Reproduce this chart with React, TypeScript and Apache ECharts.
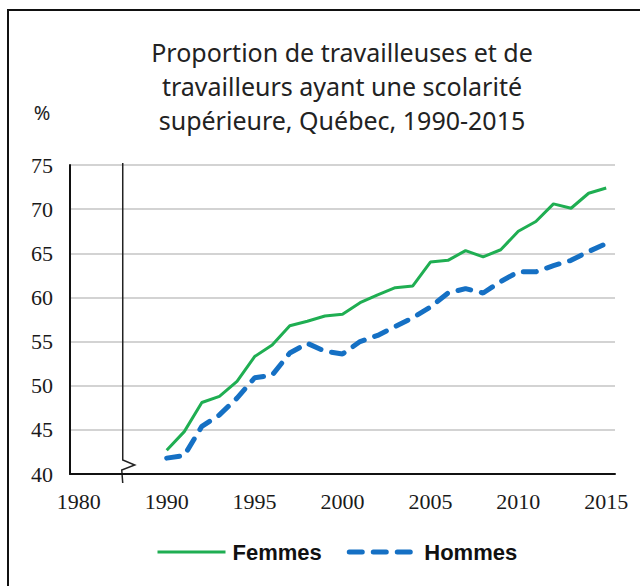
import React, { useEffect, useRef } from "react";
import * as echarts from "echarts";

const titleText = "Proportion de travailleuses et de\ntravailleurs ayant une scolarité\nsupérieure, Québec, 1990-2015";
const unitLabel = "%";
// Category positions on the x axis (first slot is labelled 1980, before the axis break)
const axisCategories = ["1980", "1986", "1987", "1988", "1989",
  "1990", "1991", "1992", "1993", "1994", "1995", "1996", "1997", "1998", "1999",
  "2000", "2001", "2002", "2003", "2004", "2005", "2006", "2007", "2008", "2009",
  "2010", "2011", "2012", "2013", "2014", "2015"];
const years = ["1990", "1991", "1992", "1993", "1994", "1995", "1996", "1997", "1998", "1999",
  "2000", "2001", "2002", "2003", "2004", "2005", "2006", "2007", "2008", "2009",
  "2010", "2011", "2012", "2013", "2014", "2015"];
const femmes = [42.7, 44.8, 48.1, 48.8, 50.5, 53.3, 54.6, 56.8, 57.3, 57.9,
  58.1, 59.4, 60.3, 61.1, 61.3, 64.0, 64.2, 65.3, 64.6, 65.4,
  67.5, 68.6, 70.6, 70.1, 71.8, 72.4];
const hommes = [41.8, 42.1, 45.4, 46.7, 48.6, 50.9, 51.2, 53.7, 54.8, 53.9,
  53.6, 55.0, 55.7, 56.7, 57.7, 58.9, 60.5, 61.0, 60.5, 61.8,
  62.9, 62.9, 63.6, 64.2, 65.2, 66.1];
const yMin = 40;
const yMax = 75;
const yStep = 5;

const green = "#1fae52";
const blue = "#1570c4";

export default function App() {
  const ref = useRef<HTMLDivElement>(null);
  useEffect(() => {
    if (!ref.current) return;
    const chart = echarts.init(ref.current, null, { renderer: "svg" });
    const option: any = {
      animation: false,
      backgroundColor: "#ffffff",
      title: {
        text: titleText,
        left: 337,
        top: 30,
        textAlign: "center",
        textStyle: {
          fontFamily: "Noto Sans",
          fontSize: 25,
          fontWeight: "normal",
          color: "#222222",
          lineHeight: 34,
        },
      },
      grid: { left: 70, right: 25, top: 165, bottom: 112, containLabel: false },
      legend: {
        bottom: 18,
        left: 151,
        itemWidth: 68,
        itemHeight: 10,
        itemGap: 25,
        itemStyle: { opacity: 0 },
        textStyle: {
          fontFamily: "Liberation Sans",
          fontWeight: "bold",
          fontSize: 22,
          color: "#111111",
          padding: [0, 0, 0, 2],
        },
        data: [
          { name: "Femmes", lineStyle: { width: 3 } },
          { name: "Hommes", lineStyle: { width: 5, type: [13, 11], cap: "round" } },
        ],
      },
      xAxis: {
        type: "category",
        data: axisCategories,
        boundaryGap: true,
        axisLine: { show: true, lineStyle: { color: "#111111", width: 2 } },
        axisTick: { show: false },
        splitLine: { show: false },
        axisLabel: {
          interval: (index: number) => index % 5 === 0,
          fontFamily: "Liberation Serif",
          fontSize: 22,
          color: "#1a1a1a",
          margin: 16,
        },
      },
      yAxis: {
        type: "value",
        min: yMin,
        max: yMax,
        interval: yStep,
        axisLine: { show: true, lineStyle: { color: "#111111", width: 2 } },
        axisTick: { show: false },
        splitLine: { show: true, lineStyle: { color: "#c4c4c4", width: 1.5 } },
        axisLabel: {
          fontFamily: "Liberation Serif",
          fontSize: 22,
          color: "#1a1a1a",
          margin: 17,
        },
      },
      series: [
        {
          name: "Femmes",
          type: "line",
          symbol: "none",
          data: years.map((y, i) => [y, femmes[i]]),
          lineStyle: { color: green, width: 3 },
          itemStyle: { color: green },
          z: 3,
        },
        {
          name: "Hommes",
          type: "line",
          symbol: "none",
          data: years.map((y, i) => [y, hommes[i]]),
          lineStyle: { color: blue, width: 5, type: [13, 11], cap: "round" },
          itemStyle: { color: blue },
          z: 2,
        },
      ],
    };
    chart.setOption(option);

    // axis break marker on the boundary between category slots 2 and 3
    const xa = chart.convertToPixel({ xAxisIndex: 0 }, axisCategories[2]) as number;
    const xb = chart.convertToPixel({ xAxisIndex: 0 }, axisCategories[3]) as number;
    const bx = (xa + xb) / 2;
    const yTop = chart.convertToPixel({ yAxisIndex: 0 }, yMax) as number;
    const yBot = chart.convertToPixel({ yAxisIndex: 0 }, yMin) as number;
    chart.setOption({
      graphic: [
        {
          type: "rect",
          shape: { x: 8, y: 10, width: 700, height: 700 },
          style: { fill: "none", stroke: "#111111", lineWidth: 2 },
          silent: true,
        },
        {
          type: "polyline",
          shape: {
            points: [
              [bx, yTop - 2],
              [bx, yBot - 14],
              [bx + 12, yBot - 9],
              [bx - 1, yBot - 4],
              [bx, yBot + 9],
            ],
          },
          style: { fill: "none", stroke: "#222222", lineWidth: 1.5 },
          silent: true,
        },
        {
          type: "text",
          x: 42,
          y: 112,
          style: {
            text: unitLabel,
            font: "20px 'Noto Sans'",
            fill: "#222222",
            align: "center",
            verticalAlign: "middle",
          },
        },
      ],
    });
    return () => chart.dispose();
  }, []);
  return (
    <div
      ref={ref}
      style={{ position: "fixed", left: 0, top: 0, width: 640, height: 586 }}
    />
  );
}
